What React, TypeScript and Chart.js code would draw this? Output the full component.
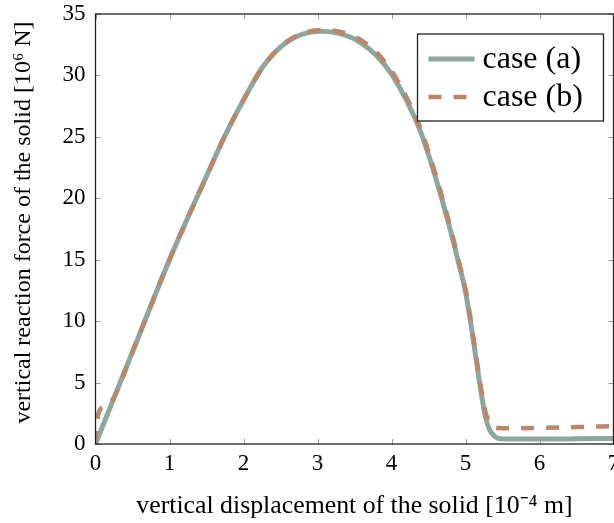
import React, { useEffect, useRef } from 'react';
import { Chart, registerables } from 'chart.js';

Chart.register(...registerables);

const xTicks = [0, 1, 2, 3, 4, 5, 6, 7];
const yTicks = [0, 5, 10, 15, 20, 25, 30, 35];

const seriesLabels = ['case (a)', 'case (b)'];

const caseAX = [0, 0.5, 1.0, 1.5, 1.75, 2.0, 2.25, 2.5, 2.75, 3.06, 3.3, 3.55, 3.8, 4.0, 4.2, 4.4, 4.6, 4.8, 4.9, 5.0, 5.1, 5.2, 5.27, 5.33, 5.4, 5.47, 5.6, 6.0, 6.5, 7.0];
const caseAY = [0, 7.5, 15.0, 21.8, 25.1, 28.0, 30.6, 32.3, 33.25, 33.6, 33.4, 32.8, 31.6, 30.1, 28.0, 25.3, 21.6, 17.3, 14.9, 12.4, 8.7, 4.6, 2.2, 1.1, 0.6, 0.42, 0.4, 0.4, 0.42, 0.45];

const caseBX = [0, 0.01, 0.03, 0.06, 0.1, 0.15, 0.22, 0.3, 0.5, 1.0, 1.5, 1.75, 2.0, 2.25, 2.5, 2.75, 3.06, 3.3, 3.55, 3.8, 4.0, 4.2, 4.4, 4.6, 4.8, 4.9, 5.0, 5.1, 5.2, 5.27, 5.33, 5.38, 5.44, 5.6, 6.0, 6.5, 7.0];
const caseBY = [0, 1.2, 2.2, 2.8, 3.0, 3.1, 3.5, 4.45, 7.5, 15.0, 21.8, 25.1, 28.0, 30.6, 32.35, 33.3, 33.7, 33.55, 33.0, 31.85, 30.35, 28.25, 25.55, 21.85, 17.55, 15.1, 12.6, 8.9, 4.9, 2.6, 1.7, 1.4, 1.3, 1.28, 1.32, 1.38, 1.45];

const xTitle = 'vertical displacement of the solid [10⁻⁴ m]';
const yTitle = 'vertical reaction force of the solid [10⁶ N]';

const FONT = "'Liberation Serif', 'Times New Roman', serif";
const colorA = '#8FA69D';
const colorB = '#B8876C';

const framePlugin = {
  id: 'frameTicksLegend',
  afterDatasetsDraw(chart: any) {
    const { ctx, chartArea: a, scales } = chart;
    const xs = scales.x;
    const ys = scales.y;
    const tl = 5;
    ctx.save();
    ctx.strokeStyle = '#9a9a9a';
    ctx.lineWidth = 1;
    ctx.beginPath();
    xs.ticks.forEach((t: any) => {
      const px = Math.round(xs.getPixelForValue(t.value)) + 0.5;
      ctx.moveTo(px, a.bottom);
      ctx.lineTo(px, a.bottom - tl);
      ctx.moveTo(px, a.top);
      ctx.lineTo(px, a.top + tl);
    });
    ys.ticks.forEach((t: any) => {
      const py = Math.round(ys.getPixelForValue(t.value)) + 0.5;
      ctx.moveTo(a.left, py);
      ctx.lineTo(a.left + tl, py);
      ctx.moveTo(a.right, py);
      ctx.lineTo(a.right - tl, py);
    });
    ctx.stroke();
    ctx.strokeStyle = '#222';
    ctx.lineWidth = 1.3;
    ctx.strokeRect(a.left, a.top, a.right - a.left, a.bottom - a.top);

    // y-axis title
    ctx.save();
    ctx.translate(24, (a.top + a.bottom) / 2 - 6.5);
    ctx.rotate(-Math.PI / 2);
    ctx.fillStyle = '#000';
    ctx.font = `24px ${FONT}`;
    ctx.textAlign = 'center';
    ctx.textBaseline = 'middle';
    ctx.fillText(yTitle, 0, 0);
    ctx.restore();

    // legend
    const bw = 186;
    const bh = 87;
    const bx = a.right - 10 - bw;
    const by = a.top + 20;
    ctx.fillStyle = '#fff';
    ctx.fillRect(bx, by, bw, bh);
    ctx.strokeStyle = '#222';
    ctx.lineWidth = 1.3;
    ctx.strokeRect(bx, by, bw, bh);
    const rows = [by + 25, by + 63];
    chart.data.datasets.forEach((ds: any, i: number) => {
      const ry = rows[i];
      ctx.beginPath();
      ctx.strokeStyle = ds.borderColor;
      ctx.lineWidth = ds.borderWidth;
      ctx.setLineDash(ds.borderDash || []);
      ctx.lineCap = 'butt';
      ctx.moveTo(bx + 11, ry);
      ctx.lineTo(bx + 57, ry);
      ctx.stroke();
      ctx.setLineDash([]);
      ctx.fillStyle = '#000';
      ctx.font = `32px ${FONT}`;
      ctx.textBaseline = 'middle';
      ctx.textAlign = 'left';
      ctx.fillText(ds.label, bx + 65, ry + 1);
    });
    ctx.restore();
  },
};

export default function App() {
  const ref = useRef<HTMLCanvasElement | null>(null);
  useEffect(() => {
    if (!ref.current) return;
    const chart = new Chart(ref.current, {
      type: 'line',
      data: {
        datasets: [
          {
            label: seriesLabels[0],
            data: caseAX.map((x, i) => ({ x, y: caseAY[i] })),
            borderColor: colorA,
            borderWidth: 5,
            pointRadius: 0,
            cubicInterpolationMode: 'monotone',
            fill: false,
            order: 2,
          },
          {
            label: seriesLabels[1],
            data: caseBX.map((x, i) => ({ x, y: caseBY[i] })),
            borderColor: colorB,
            borderWidth: 4.5,
            borderDash: [13, 12],
            pointRadius: 0,
            cubicInterpolationMode: 'monotone',
            fill: false,
            order: 1,
          },
        ],
      },
      options: {
        responsive: false,
        maintainAspectRatio: false,
        animation: false,
        layout: { padding: { left: 0, top: 14, right: 26.5, bottom: 0 } },
        plugins: { legend: { display: false }, tooltip: { enabled: false } },
        scales: {
          x: {
            type: 'linear',
            min: 0,
            max: 7,
            afterFit: (s: any) => { s.height = 79; s.paddingLeft = 0; s.paddingRight = 0; },
            afterBuildTicks: (s: any) => { s.ticks = xTicks.map((v) => ({ value: v })); },
            grid: { display: false, drawTicks: false },
            border: { display: false },
            ticks: { padding: 6, color: '#000', autoSkip: false, maxRotation: 0, font: { family: FONT, size: 23 } },
            title: { display: true, text: xTitle, color: '#000', font: { family: FONT, size: 25.8, lineHeight: 1 }, padding: { top: 0, bottom: 4 } },
          },
          y: {
            type: 'linear',
            min: 0,
            max: 35,
            afterFit: (s: any) => { s.width = 95.5; s.paddingTop = 0; s.paddingBottom = 0; },
            afterBuildTicks: (s: any) => { s.ticks = yTicks.map((v) => ({ value: v })); },
            grid: { display: false, drawTicks: false },
            border: { display: false },
            ticks: { padding: 10, color: '#000', autoSkip: false, font: { family: FONT, size: 23 } },
            title: { display: false, text: yTitle },
          },
        },
      },
      plugins: [framePlugin],
    } as any);
    return () => chart.destroy();
  }, []);
  return (
    <div style={{ position: 'fixed', left: 0, top: 0, width: 614, height: 523, overflow: 'hidden', background: '#fff' }}>
      <canvas ref={ref} width={640} height={523} style={{ display: 'block' }} />
    </div>
  );
}
